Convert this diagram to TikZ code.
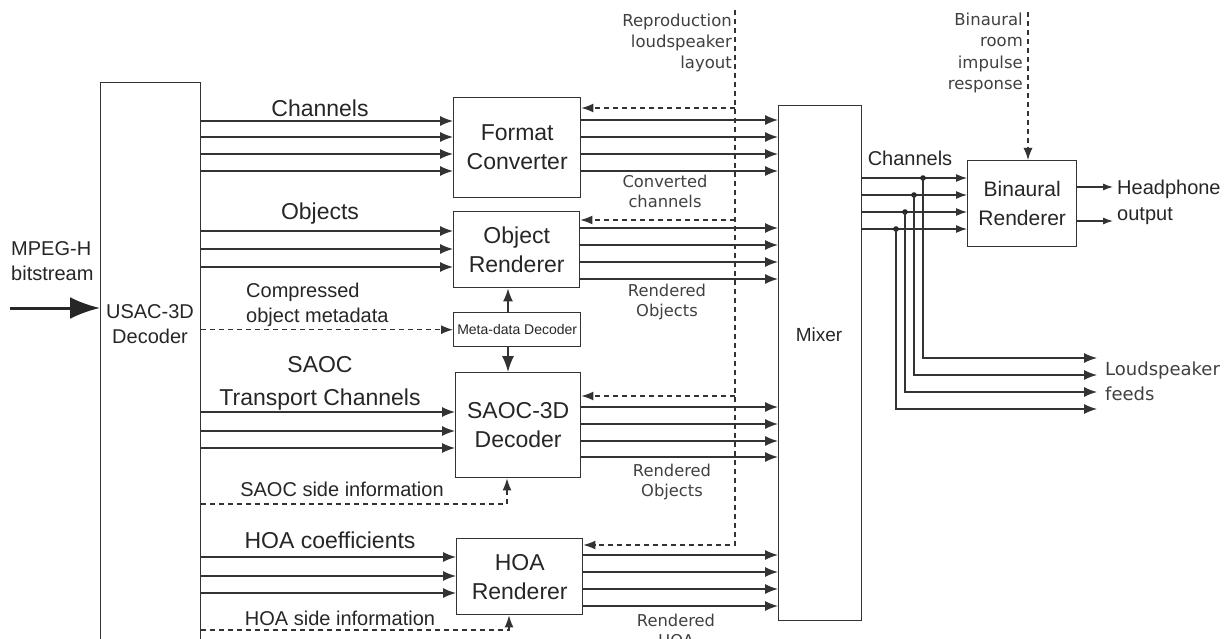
\documentclass[tikz,border=0pt]{standalone}
\usepackage{fontspec}
\setmainfont{Liberation Sans}
\newfontfamily\vfont{DejaVu Sans}
\usetikzlibrary{arrows.meta}

\tikzset{
  sig/.style={draw=black!80, line width=1.4pt, -{Latex[length=13pt,width=10pt]}},
  dsig/.style={draw=black!80, line width=1.2pt, dash pattern=on 5pt off 4pt, -{Latex[length=12pt,width=9pt]}},
  blk/.style={draw=black!80, line width=1.4pt, anchor=north west, align=center, inner sep=0pt,
    text=black!85, font=\fontsize{23}{29}\selectfont},
  lbl/.style={align=center, text=black!85, inner sep=0pt, font=\fontsize{23}{33}\selectfont},
  slbl/.style={align=center, text=black!85, inner sep=0pt, font=\fontsize{20}{25}\selectfont},
  vlbl/.style={align=center, text=black!75, inner sep=0pt, font=\vfont\fontsize{16.3}{20}\selectfont},
}

\begin{document}
\begin{tikzpicture}[x=1pt,y=-1pt]
\useasboundingbox (0,0) rectangle (1225,639);

% blocks
\node[blk, minimum width=100pt, minimum height=580pt] (usac) at (100,82) {};
\node[slbl] (usactxt) at (150,324) {USAC-3D\\Decoder};
\node[blk, minimum width=127pt, minimum height=100pt] (fc) at (453,97) {Format\\Converter};
\node[blk, minimum width=126pt, minimum height=76pt] (objr) at (453,211) {Object\\Renderer};
\node[blk, minimum width=127pt, minimum height=34pt, font=\fontsize{14}{16}\selectfont] (meta) at (453,312) {Meta-data Decoder};
\node[blk, minimum width=125pt, minimum height=105pt] (saoc) at (455,372) {SAOC-3D\\Decoder};
\node[blk, minimum width=126pt, minimum height=76pt] (hoa) at (456,538) {HOA\\Renderer};
\node[blk, minimum width=83pt, minimum height=515pt] (mixer) at (778,105) {};
\node[slbl, font=\fontsize{19}{22}\selectfont] (mixtxt) at (819,335) {Mixer};
\node[blk, minimum width=109pt, minimum height=86pt, font=\fontsize{21}{29}\selectfont] (bin) at (967,160) {Binaural\\Renderer};

% labels
\node[slbl, anchor=west, align=left] (mpeg) at (11,261) {MPEG-H\\bitstream};
\node[lbl] (chlbl) at (320,108) {Channels};
\node[lbl] (objlbl) at (320,214) {Objects};
\node[slbl, anchor=west, align=left] (cmplbl) at (246,305) {Compressed\\object metadata};
\node[lbl] (saoclbl) at (320,383) {SAOC\\Transport Channels};
\node[slbl] (sidesaoc) at (342,489) {SAOC side information};
\node[lbl] (hoalbl) at (330,540) {HOA coefficients};
\node[slbl] (sidehoa) at (340,618) {HOA side information};
\node[vlbl] (cvlbl) at (665,191) {Converted\\channels};
\node[vlbl] (r1lbl) at (667,302) {Rendered\\Objects};
\node[vlbl] (r2lbl) at (672,482) {Rendered\\Objects};
\node[vlbl] (r3lbl) at (676,630) {Rendered\\HOA};
\node[vlbl, anchor=east, align=right, font=\vfont\fontsize{16.5}{21}\selectfont] (repro) at (732,43) {Reproduction\\loudspeaker\\layout};
\node[vlbl, anchor=east, align=right, font=\vfont\fontsize{16.5}{21.5}\selectfont] (brir) at (1023,53) {Binaural\\room\\impulse\\response};
\node[slbl] (chlbl2) at (910,158) {Channels};
\node[slbl, anchor=west, align=left, font=\fontsize{20}{26}\selectfont] (hplbl) at (1117,202) {Headphone\\output};
\node[vlbl, anchor=west, align=left, font=\vfont\fontsize{18}{25}\selectfont] (lsplbl) at (1105,381) {Loudspeaker\\feeds};

% input bitstream
\coordinate (bsin) at (10,308);
\draw[draw=black!85, line width=3pt, -{Latex[length=30pt,width=22pt]}] (bsin) -- (usac.west |- bsin);

% decoder outputs
\foreach \y in {121,137,154,171} \draw[sig] (usac.east |- 0,\y) -- (fc.west |- 0,\y);
\foreach \y in {231,249,267} \draw[sig] (usac.east |- 0,\y) -- (objr.west |- 0,\y);
\foreach \y in {412,431,448} \draw[sig] (usac.east |- 0,\y) -- (saoc.west |- 0,\y);
\foreach \y in {557,576,593} \draw[sig] (usac.east |- 0,\y) -- (hoa.west |- 0,\y);

% into the mixer
\foreach \y in {120,137,154,171} \draw[sig] (fc.east |- 0,\y) -- (mixer.west |- 0,\y);
\foreach \y in {228,245,262,279} \draw[sig] (objr.east |- 0,\y) -- (mixer.west |- 0,\y);
\foreach \y in {407,424,441,457} \draw[sig] (saoc.east |- 0,\y) -- (mixer.west |- 0,\y);
\foreach \y in {555,572,589,606} \draw[sig] (hoa.east |- 0,\y) -- (mixer.west |- 0,\y);

% loudspeaker layout
\coordinate (rtop) at (735,10);
\coordinate (rbot) at (735,545);
\draw[dsig] (rtop) -- (rbot) -- (hoa.east |- rbot);
\foreach \b/\y in {fc/108,objr/220,saoc/396} \draw[dsig] (rtop |- 0,\y) -- (\b.east |- 0,\y);

% metadata
\draw[dsig] (usac.east |- meta.west) -- (meta.west);
\draw[sig] (meta.north -| 508,0) -- (objr.south -| 508,0);
\draw[sig, -{Latex[length=16pt,width=12pt]}] (meta.south -| 508,0) -- (saoc.north -| 508,0);

% side information
\draw[dsig] (usac.east |- 0,504) -| (saoc.south -| 507,0);
\draw[dsig] (usac.east |- 0,630) -| (hoa.south -| 509,0);

% mixer outputs
\foreach \y in {178,195,212,229} \draw[sig, line width=1.2pt, -{Latex[length=11pt,width=8pt]}] (mixer.east |- 0,\y) -- (bin.west |- 0,\y);
\coordinate (lsp) at (1097,0);
\foreach \x/\y/\z in {923/178/358, 914/195/375, 905/212/392, 896/229/409} {
  \fill[black!85] (\x,\y) circle (2.8pt);
  \draw[sig, line width=1.2pt] (\x,\y) -- (\x,\z) -- (lsp |- 0,\z);
}

% binaural
\coordinate (brtop) at (1028,12);
\draw[dsig] (brtop) -- (brtop |- bin.north);
\coordinate (hp) at (1113,0);
\foreach \y in {187,221} \draw[sig, line width=1.2pt, -{Latex[length=10pt,width=7pt]}] (bin.east |- 0,\y) -- (hp |- 0,\y);

\end{tikzpicture}
\end{document}
